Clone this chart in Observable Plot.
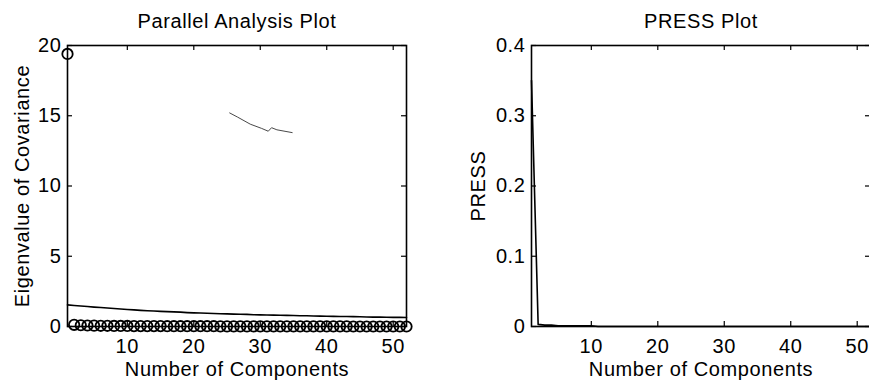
<!DOCTYPE html>
<html><head><meta charset="utf-8">
<script src="https://cdn.jsdelivr.net/npm/d3@7"></script>
<script src="https://cdn.jsdelivr.net/npm/@observablehq/plot@0.6"></script>
<style>
html,body{margin:0;padding:0;background:#fff;overflow:hidden;width:869px;height:384px;}
#wrap{position:relative;width:869px;height:384px;overflow:hidden;background:#fff;}
#left{position:absolute;left:0;top:0;width:440px;height:384px;}
#right{position:absolute;left:440px;top:0;width:440px;height:384px;}
#wrap svg{max-width:none !important;}
#wrap svg text{letter-spacing:0.6px;}
</style></head>
<body><div id="wrap"><div id="left"></div><div id="right"></div></div>
<script>
// ---- data ----
const components = [1,2,3,4,5,6,7,8,9,10,11,12,13,14,15,16,17,18,19,20,21,22,23,24,25,26,
  27,28,29,30,31,32,33,34,35,36,37,38,39,40,41,42,43,44,45,46,47,48,49,50,51,52];
const eigenvalues = [19.4,0.12,0.09,0.07,0.06,0.05,0.05,0.04,0.04,0.04,0.03,0.03,0.03,0.03,0.03,0.02,
  0.02,0.02,0.02,0.02,0.02,0.02,0.02,0.01,0.01,0.01,0.01,0.01,0.01,0.01,0.01,0.01,0.01,0.01,0.01,0.01,
  0.01,0.01,0.01,0.01,0.01,0.01,0.01,0.00,0.00,0.00,0.00,0.00,0.00,0.00,0.00,0.00];
const parallelEig = [1.54,1.50,1.46,1.42,1.38,1.35,1.32,1.28,1.25,1.21,1.18,1.15,1.12,1.10,1.08,1.06,
  1.04,1.02,0.99,0.97,0.96,0.94,0.93,0.91,0.90,0.88,0.87,0.86,0.84,0.83,0.82,0.81,0.80,0.79,0.78,0.77,
  0.76,0.75,0.74,0.73,0.72,0.71,0.71,0.70,0.69,0.68,0.67,0.67,0.66,0.65,0.65,0.64];
const press = [0.35,0.003,0.002,0.002,0.001,0.001,0.001,0.001,0.001,0.001,0,0,0,0,0,0,0,0,0,0,0,0,0,0,0,0,
  0,0,0,0,0,0,0,0,0,0,0,0,0,0,0,0,0,0,0,0,0,0,0,0,0,0];
// faint stray stroke visible in the left panel
const strayX = [25.4,26.6,28.5,30.2,31.2,31.7,32.5,34.8];
const strayY = [15.2,14.9,14.4,14.1,13.9,14.15,14.0,13.8];
const xTicks = [10,20,30,40,50];
const leftYTicks = [0,5,10,15,20];
const rightYTicks = [0,0.1,0.2,0.3,0.4];
const titles = ["Parallel Analysis Plot", "PRESS Plot"];
const xLabel = "Number of Components";
const yLabels = ["Eigenvalue of Covariance", "PRESS"];

// ---- layout ----
const W = 440, H = 384, MT = 45, MB = 58;
const FONT = "Liberation Sans";

function panel({xDomain, yDomain, yTicks, yFmt, marginLeft, marginRight, title, yLabel, yLabelDx, marks}) {
  const innerH = H - MT - MB;
  const innerW = W - marginLeft - marginRight;
  return Plot.plot({
    width: W, height: H, marginTop: MT, marginBottom: MB, marginLeft, marginRight,
    style: {fontFamily: FONT, fontSize: "20px", color: "black", background: "white", overflow: "visible", maxWidth: "none"},
    x: {domain: xDomain, ticks: xTicks, tickSize: 0, tickPadding: 12, label: null},
    y: {domain: yDomain, ticks: yTicks, tickSize: 0, tickPadding: 6, tickFormat: yFmt, label: null},
    marks: [
      ...marks,
      Plot.tickX(xTicks, {x: d => d, insetTop: innerH - 5, stroke: "black", strokeWidth: 1.2}),
      Plot.tickX(xTicks, {x: d => d, insetBottom: innerH - 5, stroke: "black", strokeWidth: 1.2}),
      Plot.tickY(yTicks, {y: d => d, insetRight: innerW - 5, stroke: "black", strokeWidth: 1.2}),
      Plot.tickY(yTicks, {y: d => d, insetLeft: innerW - 5, stroke: "black", strokeWidth: 1.2}),
      Plot.frame({stroke: "black", strokeWidth: 1.6}),
      Plot.text([title], {text: d => d, frameAnchor: "top", dy: -24, lineAnchor: "middle", textAnchor: "middle", fill: "black"}),
      Plot.text([xLabel], {text: d => d, frameAnchor: "bottom", dy: 43, lineAnchor: "middle", textAnchor: "middle", fill: "black"}),
      Plot.text([yLabel], {text: d => d, frameAnchor: "left", dx: yLabelDx, rotate: -90, lineAnchor: "middle", textAnchor: "middle", fill: "black"})
    ]
  });
}

const left = panel({
  xDomain: [1, 52], yDomain: [0, 20], yTicks: leftYTicks, yFmt: d => String(d),
  marginLeft: 67, marginRight: 34, title: titles[0], yLabel: yLabels[0], yLabelDx: -45,
  marks: [
    Plot.line(strayY, {x: strayX, y: strayY, stroke: "#333", strokeWidth: 0.9}),
    Plot.line(parallelEig, {x: components, y: parallelEig, stroke: "black", strokeWidth: 1.6}),
    Plot.dot(eigenvalues, {x: components, y: eigenvalues, r: 5.2, stroke: "black", strokeWidth: 1.8, fill: "none"})
  ]
});
const right = panel({
  xDomain: [1, 52], yDomain: [0, 0.4], yTicks: rightYTicks, yFmt: d => String(d),
  marginLeft: 91, marginRight: 10, title: titles[1], yLabel: yLabels[1], yLabelDx: -53,
  marks: [
    Plot.line(press, {x: components, y: press, stroke: "black", strokeWidth: 1.6})
  ]
});
document.getElementById("left").appendChild(left);
document.getElementById("right").appendChild(right);
</script>
</body></html>
